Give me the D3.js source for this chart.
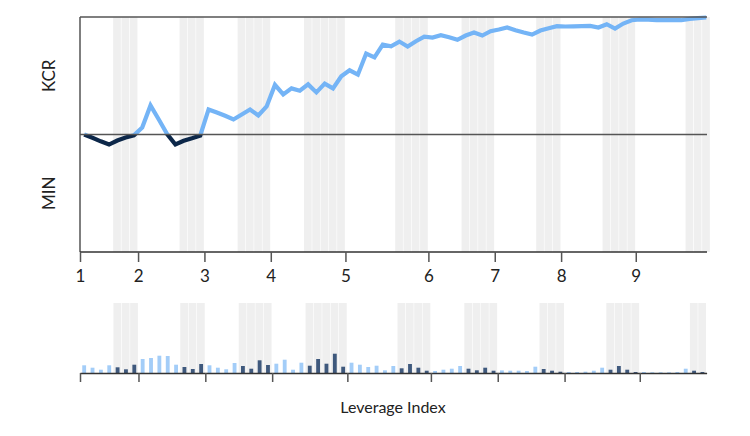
<!DOCTYPE html>
<html>
<head>
<meta charset="utf-8">
<script src="https://cdn.jsdelivr.net/npm/d3@7"></script>
<style>
  body { margin: 0; background: #fff; }
  svg text { font-family: Lato, "Open Sans", sans-serif; fill: #222; }
</style>
</head>
<body>
<svg width="750" height="436"></svg>
<script>
var svg = d3.select("svg");

// line values per index (positive = KCR, negative = MIN)
var lineValues = [0, -3.3, -6.8, -10, -6, -3, -0.8, 7, 29, 15, 0.5, -10, -6.3, -3.8, -1,
  25, 22, 18.7, 15, 20, 25, 19, 28, 49.5, 40, 46, 43.7, 50, 42, 50.7, 46, 58, 64, 59.7,
  80.7, 77, 89.7, 88, 92.7, 87.7, 93, 97.7, 96.7, 99, 97, 94.5, 98.7, 101.7, 98.7, 103,
  104.7, 106.7, 104, 101.7, 99.7, 103.7, 106, 108, 107.7, 107.9, 108.1, 108.4, 106.7,
  110, 105.7, 110.7, 114, 114.7, 114.5, 114, 114, 114.2, 114, 115.3, 116, 116.7];

// bar values per index (lower panel)
var barValues = [7.7, 5.3, 3.3, 7.7, 5.7, 3.7, 8.3, 14, 15, 17.3, 17, 8.3, 6, 4, 9,
  7.7, 5.3, 3.7, 10, 7, 4.3, 12.7, 8, 9.3, 13.3, 3.3, 10.3, 7.3, 14, 9.3, 19.3, 6.3,
  10.3, 8.3, 6, 7.3, 2.7, 7, 4.7, 9, 5.3, 2.3, 2, 3.3, 4.3, 7, 4.3, 2.7, 5.3, 2.3,
  2.6, 2.3, 2.3, 2, 6.3, 4, 2.3, 1.3, 1, 1, 1.3, 2.3, 5.3, 3.3, 7, 3.3, 1, 1, 0.7,
  0.7, 0.7, 1, 4.3, 2.3, 1];

// shaded index ranges [start, end)
var shaded = [[4, 7], [12, 15], [19, 23], [27, 32], [38, 42], [46, 50], [55, 58], [63, 67], [73, 76]];

var tickIdx = [0, 7, 15, 23, 32, 42, 50, 58, 67],
    tickLabels = ["1", "2", "3", "4", "5", "6", "7", "8", "9"];

var clrPos = "#74b4f6", clrNeg = "#0c2749",
    barLight = "#a3cdf8", barDark = "#3f597d",
    bandClr = "#efefef", axisClr = "#555";

function isShaded(i){ return shaded.some(s => i >= s[0] && i < s[1]); }

/***********************************************************************************************/
// top panel
var pLeft = 80, pRight = 707, pTop = 17, pBottom = 252, step = 8.295;

var x = d3.scaleBand().domain(d3.range(lineValues.length)).range([pLeft, pLeft + step*lineValues.length]);
var xl = d3.scaleLinear().domain([0, lineValues.length]).range(x.range());
var y = d3.scaleLinear().domain([-117.2, 117.2]).range([pBottom, pTop]);

var gTop = svg.append("g");

gTop.selectAll(".band").data(d3.range(lineValues.length).filter(isShaded)).join("rect")
  .attr("x", d => x(d)).attr("y", pTop)
  .attr("width", x.bandwidth() - 0.6).attr("height", pBottom - pTop)
  .attr("fill", bandClr);

var defs = svg.append("defs");
defs.append("clipPath").attr("id", "clipPos").append("rect")
  .attr("x", 0).attr("y", 0).attr("width", 750).attr("height", y(0));
defs.append("clipPath").attr("id", "clipNeg").append("rect")
  .attr("x", 0).attr("y", y(0)).attr("width", 750).attr("height", 436 - y(0));

var line = d3.line().x((d, i) => x(i) + x.bandwidth()/2).y(d => y(d));

gTop.append("path").datum(lineValues).attr("d", line)
  .attr("fill", "none").attr("stroke", clrPos).attr("stroke-width", 4.2)
  .attr("clip-path", "url(#clipPos)");
gTop.append("path").datum(lineValues).attr("d", line)
  .attr("fill", "none").attr("stroke", clrNeg).attr("stroke-width", 4.2)
  .attr("clip-path", "url(#clipNeg)");

// frame lines
gTop.append("line").attr("x1", pLeft).attr("x2", pRight).attr("y1", pTop).attr("y2", pTop)
  .attr("stroke", axisClr).attr("stroke-width", 1.5);
gTop.append("line").attr("x1", pLeft).attr("x2", pRight).attr("y1", y(0)).attr("y2", y(0))
  .attr("stroke", axisClr).attr("stroke-width", 1.3);
gTop.append("line").attr("x1", pLeft).attr("x2", pLeft).attr("y1", pTop).attr("y2", pBottom)
  .attr("stroke", axisClr).attr("stroke-width", 1.5);
gTop.append("line").attr("x1", pLeft).attr("x2", pRight).attr("y1", pBottom).attr("y2", pBottom)
  .attr("stroke", "#333").attr("stroke-width", 1.5);

var axTop = gTop.append("g").attr("transform", "translate(0," + pBottom + ")")
  .call(d3.axisBottom(xl).tickValues(tickIdx).tickFormat((d, i) => tickLabels[i]).tickSize(10).tickPadding(8));
axTop.select(".domain").remove();
axTop.selectAll("line").attr("stroke", axisClr).attr("stroke-width", 1.5);
axTop.selectAll("text").style("font-size", "17px").attr("fill", "#1a1a1a");

gTop.append("text").attr("transform", "translate(55," + ((pTop + y(0))/2) + ") rotate(-90)")
  .attr("text-anchor", "middle").style("font-size", "17px").text("KCR");
gTop.append("text").attr("transform", "translate(55," + ((pBottom + y(0))/2) + ") rotate(-90)")
  .attr("text-anchor", "middle").style("font-size", "17px").text("MIN");

/***********************************************************************************************/
// bottom panel
var bTop = 303, bBottom = 373, bRight = 706.6;

var xb = d3.scaleBand().domain(d3.range(barValues.length)).range([pLeft, bRight]);
var xbl = d3.scaleLinear().domain([0, barValues.length]).range(xb.range());
var yb = d3.scaleLinear().domain([0, 70]).range([bBottom, bTop]);

var gBot = svg.append("g");

gBot.selectAll(".band").data(d3.range(barValues.length).filter(isShaded)).join("rect")
  .attr("x", d => xb(d)).attr("y", bTop)
  .attr("width", xb.bandwidth() - 0.6).attr("height", bBottom - bTop)
  .attr("fill", bandClr);

gBot.selectAll(".bar").data(barValues).join("rect")
  .attr("x", (d, i) => xb(i) + xb.bandwidth()*0.27)
  .attr("width", xb.bandwidth()*0.46)
  .attr("y", d => yb(d)).attr("height", d => yb(0) - yb(d))
  .attr("fill", (d, i) => isShaded(i) ? barDark : barLight);

var axBot = gBot.append("g").attr("transform", "translate(0," + bBottom + ")")
  .call(d3.axisBottom(xbl).tickValues(tickIdx).tickFormat("").tickSize(9).tickSizeOuter(0));
axBot.select(".domain").attr("stroke", "#333").attr("stroke-width", 1.5);
axBot.selectAll("line").attr("stroke", axisClr).attr("stroke-width", 1.5);

gBot.append("text").attr("x", 393).attr("y", 413).attr("text-anchor", "middle")
  .style("font-size", "16px").text("Leverage Index");
</script>
</body>
</html>
